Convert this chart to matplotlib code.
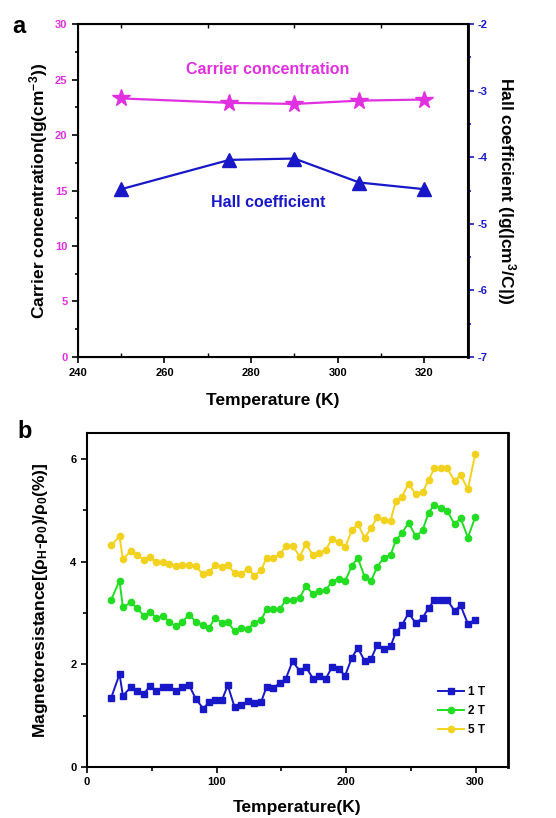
import matplotlib
matplotlib.use("Agg")
import matplotlib.pyplot as plt
from matplotlib.ticker import MultipleLocator

plt.rcParams["font.family"] = ["Liberation Sans", "DejaVu Sans"]
plt.rcParams["font.weight"] = "bold"
plt.rcParams["mathtext.default"] = "regular"
plt.rcParams["axes.unicode_minus"] = False

# ---------------- Panel a data ----------------
temp_a = [250, 275, 290, 305, 320]
carrier_conc = [23.3, 22.9, 22.8, 23.1, 23.2]
hall_coef = [-4.48, -4.04, -4.02, -4.38, -4.48]

# ---------------- Panel b data ----------------
temp_b = [18.7, 25.1, 27.7, 34.1, 38.7, 43.9, 48.5, 53.6, 58.8, 63.4,
          68.6, 73.7, 78.9, 84.0, 89.7, 94.3, 98.9, 104.1, 108.7, 113.9,
          119.0, 124.2, 129.3, 134.5, 138.6, 143.7, 148.9, 153.5, 158.7, 164.3,
          169.0, 174.6, 179.2, 184.4, 189.0, 194.2, 199.3, 204.5, 209.1, 214.3,
          219.4, 224.1, 229.2, 234.4, 238.5, 243.1, 248.3, 253.9, 259.1, 263.7,
          268.3, 273.5, 278.1, 283.8, 288.4, 294.1, 299.8]

mr_1t = [1.35, 1.81, 1.39, 1.56, 1.48, 1.43, 1.57, 1.48, 1.56, 1.55,
         1.48, 1.55, 1.59, 1.33, 1.14, 1.26, 1.30, 1.30, 1.59, 1.17,
         1.20, 1.29, 1.24, 1.27, 1.56, 1.53, 1.64, 1.72, 2.06, 1.87,
         1.95, 1.72, 1.78, 1.72, 1.94, 1.91, 1.78, 2.13, 2.32, 2.07,
         2.11, 2.38, 2.30, 2.35, 2.63, 2.76, 3.00, 2.80, 2.91, 3.09,
         3.26, 3.26, 3.26, 3.04, 3.15, 2.79, 2.87]

mr_2t = [3.26, 3.63, 3.11, 3.21, 3.09, 2.95, 3.02, 2.91, 2.94, 2.83,
         2.74, 2.83, 2.97, 2.83, 2.76, 2.71, 2.91, 2.81, 2.82, 2.65,
         2.71, 2.69, 2.81, 2.87, 3.07, 3.07, 3.07, 3.26, 3.26, 3.30,
         3.52, 3.37, 3.42, 3.45, 3.61, 3.67, 3.62, 3.92, 4.07, 3.71,
         3.63, 3.90, 4.08, 4.13, 4.42, 4.55, 4.76, 4.49, 4.61, 4.95,
         5.11, 5.04, 4.99, 4.73, 4.85, 4.47, 4.87]

mr_5t = [4.32, 4.49, 4.05, 4.21, 4.13, 4.04, 4.10, 3.99, 3.99, 3.95,
         3.91, 3.94, 3.94, 3.91, 3.75, 3.79, 3.94, 3.90, 3.94, 3.77,
         3.76, 3.86, 3.73, 3.83, 4.08, 4.08, 4.14, 4.31, 4.31, 4.10,
         4.34, 4.13, 4.16, 4.23, 4.44, 4.38, 4.28, 4.61, 4.73, 4.47,
         4.65, 4.87, 4.81, 4.80, 5.18, 5.26, 5.52, 5.31, 5.35, 5.59,
         5.82, 5.82, 5.82, 5.57, 5.69, 5.41, 6.10]

field_labels = ["1 T", "2 T", "5 T"]

magenta = "#e030e0"
blue = "#1818c8"
green = "#22dd22"
yellow = "#f2d21e"

fig = plt.figure(figsize=(5.56, 8.18), dpi=100)

# ===================================================
# Panel a: carrier concentration / Hall coefficient
# ===================================================

ax = fig.add_axes([0.140, 0.5636, 0.701, 0.407])
ax2 = ax.twinx()

ax.plot(temp_a, carrier_conc, color=magenta, marker="*",
        markersize=13, linewidth=1.6)
ax2.plot(temp_a, hall_coef, color=blue, marker="^",
         markersize=10, linewidth=1.6)

ax.set_xlim(240, 330)
ax.set_ylim(0, 30)
ax2.set_ylim(-7, -2)

ax.xaxis.set_major_locator(MultipleLocator(20))
ax.xaxis.set_minor_locator(MultipleLocator(10))
ax.yaxis.set_major_locator(MultipleLocator(5))
ax.yaxis.set_minor_locator(MultipleLocator(2.5))
ax2.yaxis.set_major_locator(MultipleLocator(1))
ax2.yaxis.set_minor_locator(MultipleLocator(0.5))

ax.tick_params(axis="x", which="major", direction="out", length=4,
               width=1.2, labelsize=8, pad=4)
ax.tick_params(axis="x", which="minor", direction="in", length=3,
               width=1.0, top=True)
ax.tick_params(axis="y", which="both", direction="out", width=1.2,
               labelsize=8, labelcolor=magenta, color="black")
ax.tick_params(axis="y", which="major", length=4)
ax.tick_params(axis="y", which="minor", length=2.5)
ax2.tick_params(axis="y", which="both", direction="out", width=1.2,
                labelsize=8, labelcolor=blue, color=blue)
ax2.tick_params(axis="y", which="major", length=4)
ax2.tick_params(axis="y", which="minor", length=2.5)

for spine in ax.spines.values():
    spine.set_linewidth(1.5)
ax2.spines["right"].set_linewidth(2.0)

ax.set_xlabel("Temperature (K)", fontsize=12.5, fontweight="bold")
ax.xaxis.set_label_coords(0.5, -0.108)
ax.set_ylabel("Carrier concentration(lg(cm$^{-3}$))", fontsize=12.5,
              fontweight="bold")
ax.yaxis.set_label_coords(-0.072, 0.5)
ax2.set_ylabel("Hall coefficient (lg(|cm$^{3}$/C|))", fontsize=12.5,
               fontweight="bold", rotation=270, va="center")
ax2.yaxis.set_label_coords(1.10, 0.5)

ax.text(283.9, 25.9, "Carrier concentration", color=magenta,
        fontsize=11.5, fontweight="bold", ha="center", va="center")
ax.text(283.9, 13.9, "Hall coefficient", color=blue,
        fontsize=11.5, fontweight="bold", ha="center", va="center")

fig.text(0.034, 0.967, "a", fontsize=17, fontweight="bold",
         ha="center", va="center")

# ===================================================
# Panel b: magnetoresistance vs temperature
# ===================================================

bx = fig.add_axes([0.1565, 0.0623, 0.757, 0.408])

bx.plot(temp_b, mr_1t, color=blue, marker="s", markersize=4,
        linewidth=1.4, label=field_labels[0])
bx.plot(temp_b, mr_2t, color=green, marker="o", markersize=4.5,
        linewidth=1.4, label=field_labels[1])
bx.plot(temp_b, mr_5t, color=yellow, marker="o", markersize=4.5,
        linewidth=1.4, label=field_labels[2])

bx.set_xlim(0, 325)
bx.set_ylim(0, 6.5)
bx.xaxis.set_major_locator(MultipleLocator(100))
bx.xaxis.set_minor_locator(MultipleLocator(50))
bx.yaxis.set_major_locator(MultipleLocator(2))
bx.yaxis.set_minor_locator(MultipleLocator(1))

bx.tick_params(which="both", direction="out", width=1.2, labelsize=8)
bx.tick_params(which="major", length=4)
bx.tick_params(which="minor", length=3)

for spine in bx.spines.values():
    spine.set_linewidth(1.5)
bx.spines["right"].set_linewidth(2.0)

bx.set_xlabel("Temperature(K)", fontsize=12.5, fontweight="bold")
bx.xaxis.set_label_coords(0.5, -0.1)
bx.set_ylabel(r"Magnetoresistance[($\rho_H$-$\rho_0$)/$\rho_0$(%)]",
              fontsize=12.5, fontweight="bold")
bx.yaxis.set_label_coords(-0.088, 0.5)

leg = bx.legend(loc="lower right", bbox_to_anchor=(0.97, 0.06),
                frameon=False, fontsize=8.5, handlelength=2.2,
                handletextpad=0.3, labelspacing=0.6)
for t in leg.get_texts():
    t.set_fontweight("bold")

fig.text(0.045, 0.472, "b", fontsize=17, fontweight="bold",
         ha="center", va="center")

fig.savefig("out.png", dpi=100)
